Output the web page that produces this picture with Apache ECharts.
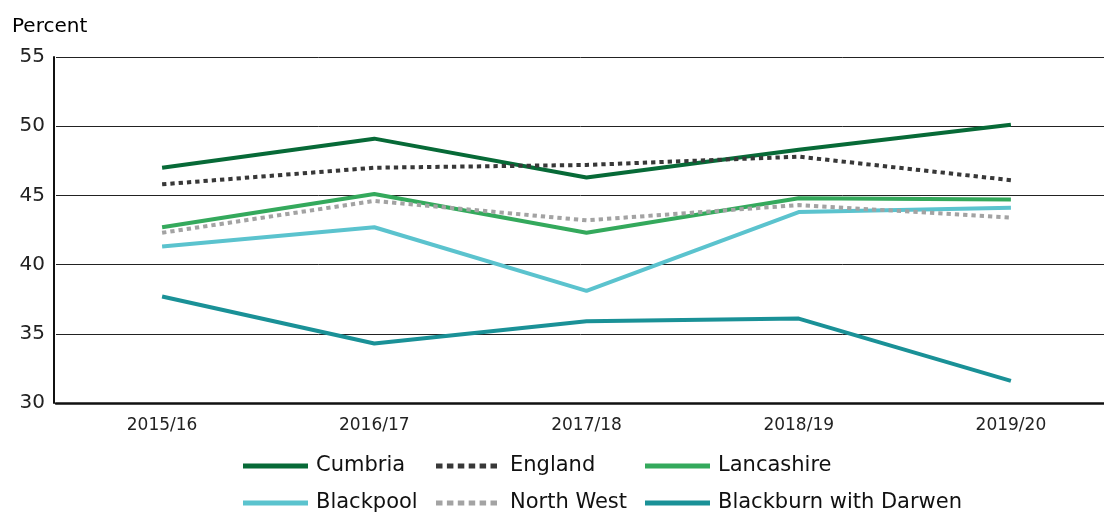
<!DOCTYPE html>
<html>
<head>
<meta charset="utf-8">
<script src="https://cdn.jsdelivr.net/npm/echarts@6/dist/echarts.min.js"></script>
<style>html,body{margin:0;padding:0;background:#fff}#c{width:1104px;height:512px}</style>
</head>
<body>
<div id="c"></div>
<script>
const categories = ['2015/16', '2016/17', '2017/18', '2018/19', '2019/20'];
const cumbria = [47.0, 49.1, 46.3, 48.3, 50.1];
const england = [45.8, 47.0, 47.2, 47.8, 46.1];
const lancashire = [42.7, 45.1, 42.3, 44.8, 44.7];
const blackpool = [41.3, 42.7, 38.1, 43.8, 44.1];
const northWest = [42.3, 44.6, 43.2, 44.3, 43.4];
const blackburn = [37.7, 34.3, 35.9, 36.1, 31.6];
const yTicks = { min: 30, max: 55, interval: 5 };

const FONT = 'DejaVu Sans';
const dotPath = 'path://M0,0h6.5v5h-6.5z M10.9,0h6.5v5h-6.5z M21.8,0h6.5v5h-6.5z M32.7,0h6.5v5h-6.5z M43.6,0h6.5v5h-6.5z M54.5,0h6.5v5h-6.5z';

const seriesDefs = [
  { name: 'Cumbria', data: cumbria, color: '#076a37', dotted: false },
  { name: 'England', data: england, color: '#383838', dotted: true },
  { name: 'Lancashire', data: lancashire, color: '#34a95c', dotted: false },
  { name: 'Blackpool', data: blackpool, color: '#5bc3ce', dotted: false },
  { name: 'North West', data: northWest, color: '#a3a3a3', dotted: true },
  { name: 'Blackburn with Darwen', data: blackburn, color: '#1a9197', dotted: false }
];

const legendPos = {
  'Cumbria': [243, 454], 'England': [436, 454], 'Lancashire': [645, 454],
  'Blackpool': [243, 491], 'North West': [436, 491], 'Blackburn with Darwen': [645, 491]
};

const legends = seriesDefs.map(s => ({
  data: [s.name],
  left: legendPos[s.name][0],
  top: legendPos[s.name][1],
  padding: 0,
  selectedMode: false,
  itemWidth: s.dotted ? 61 : 65,
  itemHeight: 5,
  icon: s.dotted ? dotPath : 'rect',
  itemStyle: { borderWidth: 0 },
  textStyle: {
    fontFamily: FONT, fontSize: 21, color: '#111', lineHeight: 24,
    padding: [0, 0, 0, s.dotted ? 8 : 3]
  }
}));

const chart = echarts.init(document.getElementById('c'), null, { renderer: 'canvas' });
chart.setOption({
  animation: false,
  backgroundColor: '#fff',
  title: {
    text: 'Percent', left: 12, top: 17, padding: 0,
    textStyle: { fontFamily: FONT, fontSize: 20, fontWeight: 'normal', color: '#000' }
  },
  legend: legends,
  grid: { left: 56, right: -13, top: 57, bottom: 109, containLabel: false, outerBoundsMode: 'none' },
  xAxis: {
    type: 'category',
    data: categories,
    boundaryGap: true,
    axisLine: { show: true, lineStyle: { color: '#111', width: 2.5 } },
    axisTick: { show: false },
    axisLabel: { fontFamily: FONT, fontSize: 17, color: '#222', margin: 14 },
    splitLine: { show: false }
  },
  yAxis: {
    type: 'value',
    min: yTicks.min, max: yTicks.max, interval: yTicks.interval,
    offset: 2,
    axisLine: { show: true, lineStyle: { color: '#111', width: 2 } },
    axisTick: { show: false },
    axisLabel: { fontFamily: FONT, fontSize: 20, color: '#222', margin: 9 },
    splitLine: { show: true, lineStyle: { color: '#222', width: 1 } }
  },
  series: seriesDefs.map(s => ({
    name: s.name,
    type: 'line',
    data: s.data,
    symbol: 'none',
    showSymbol: false,
    color: s.color,
    itemStyle: { color: s.color },
    lineStyle: { color: s.color, width: 4, type: s.dotted ? [4.3, 4] : 'solid', cap: 'butt' },
    emphasis: { disabled: true }
  }))
});
</script>
</body>
</html>
